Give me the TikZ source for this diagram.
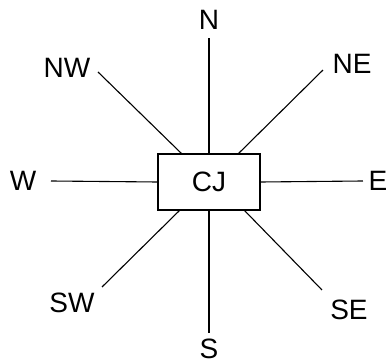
\documentclass[tikz,border=0pt]{standalone}
\usepackage{fontspec}
\setmainfont{Liberation Sans}
\usetikzlibrary{calc}
\tikzset{
	every path/.style={line width=0.5pt},
	align=center,
	dir/.style={
		font=\fontsize{14}{16}\selectfont,
		inner sep=0pt,
	},
	centre/.style={
		draw,
		rectangle,
		line width=0.7pt,
		minimum width=51pt,
		minimum height=28pt,
		font=\fontsize{14}{16}\selectfont,
	},
	ray/.style={
		line width=0.55pt,
	},
}
\begin{document}
\begin{tikzpicture}[x=0.5pt,y=-0.5pt]
		\useasboundingbox (0,0) rectangle (388,364);

		\node[centre] (cj) at (209,182) {CJ};

		\node[dir] (n)  at (209,20)  {N};
		\node[dir] (nw) at (67,68)   {NW};
		\node[dir] (ne) at (352,64)  {NE};
		\node[dir] (w)  at (23,181)  {W};
		\node[dir] (e)  at (378,181) {E};
		\node[dir] (sw) at (72,303)  {SW};
		\node[dir] (s)  at (209,349) {S};
		\node[dir] (se) at (349,310) {SE};

		% free ends of the rays
		\coordinate (nend)  at (209,38);
		\coordinate (nwend) at (98,72);
		\coordinate (neend) at (323,70);
		\coordinate (wend)  at (51,181);
		\coordinate (eend)  at (363,181);
		\coordinate (swend) at (102,287);
		\coordinate (send)  at (209,333);
		\coordinate (seend) at (322,290);

		\draw[ray] (cj.north) -- (nend);
		\draw[ray] ($(cj.north west)+(24,0)$) -- (nwend);
		\draw[ray] ($(cj.north east)+(-22,0)$) -- (neend);
		\draw[ray] (cj.west) -- (wend);
		\draw[ray] (cj.east) -- (eend);
		\draw[ray] ($(cj.south west)+(22,0)$) -- (swend);
		\draw[ray] (cj.south) -- (send);
		\draw[ray] ($(cj.south east)+(-16,0)$) -- (seend);

	\end{tikzpicture}
\end{document}
